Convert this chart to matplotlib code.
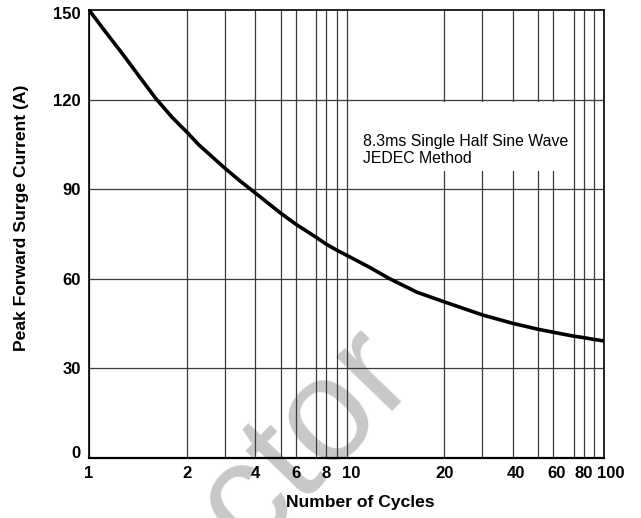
import numpy as np
import matplotlib
matplotlib.use("Agg")
import matplotlib.pyplot as plt
from matplotlib.patches import Rectangle
from matplotlib.transforms import ScaledTranslation

# ---- data ----
cycles = [1, 1.126, 1.267, 1.426, 1.606, 1.807, 2, 2.28, 3, 3.46, 4, 5, 6, 7,
          8, 9, 10, 11.8, 13.6, 16.5, 20, 30, 40, 50, 60, 70, 80, 90, 100]
current = [150, 142.6, 135.4, 127.9, 120.4, 114.0, 109.2, 104.8, 97.0, 92.8,
           88.8, 82.0, 78.3, 73.9, 71.6, 69.6, 67.9, 63.8, 60.0, 55.5, 52.3,
           47.9, 45.1, 43.1, 42.1, 40.8, 40.3, 39.7, 39.2]
y_ticks = [0, 30, 60, 90, 120, 150]
x_grid = [1, 2, 3, 4, 5, 6, 7, 8, 9, 10, 20, 30, 40, 50, 60, 70, 80, 90, 100]
x_labeled = [1, 2, 4, 6, 8, 10, 20, 40, 60, 80, 100]
note_lines = ["8.3ms Single Half Sine Wave", "JEDEC Method"]
xlabel = "Number of Cycles"
ylabel = "Peak Forward Surge Current (A)"

# ---- the datasheet's hand-drawn log grid (decade fractions as drawn) ----
decade_pattern = [0, 0.379, 0.528, 0.645, 0.744, 0.803, 0.882, 0.921, 0.962, 1.0]
tab_x = [0.01] + x_grid + [10000]
tab_pos = [-2] + decade_pattern + [1 + p for p in decade_pattern[1:]] + [4]
tab_lx = np.log10(tab_x)
tab_pos = np.array(tab_pos, dtype=float)


def fwd(x):
    x = np.clip(np.asarray(x, dtype=float), 1e-12, None)
    return np.interp(np.log10(x), tab_lx, tab_pos)


def inv(v):
    return 10 ** np.interp(np.asarray(v, dtype=float), tab_pos, tab_lx)


plt.rcParams['font.family'] = ['Liberation Sans', 'DejaVu Sans']

fig = plt.figure(figsize=(6.41, 5.18), dpi=100)
fig.patch.set_facecolor('white')
ax = fig.add_axes([89 / 641, 60 / 518, 515 / 641, 448 / 518])
ax.set_facecolor('none')

ax.set_xscale('function', functions=(fwd, inv))
ax.set_xlim(1, 100)
ax.set_ylim(0, 150)

# grid
for gx in x_grid:
    ax.axvline(gx, color='#3a3a3a', lw=0.9, zorder=1)
for gy in y_ticks[1:-1]:
    ax.axhline(gy, color='#3a3a3a', lw=0.9, zorder=1)

# note box (white background hiding grid)
ax.add_patch(Rectangle((0.507, 0.641), 0.427, 0.153, transform=ax.transAxes,
                       facecolor='white', edgecolor='none', zorder=2))
ax.text(0.532, 0.6875, "\n".join(note_lines), transform=ax.transAxes,
        fontsize=11.4, ha='left', va='center', linespacing=1.1, zorder=3)

ax.plot(cycles, current, color='black', lw=2.6, zorder=4,
        solid_capstyle='round', solid_joinstyle='round')

ax.set_xticks(x_grid)
ax.set_xticklabels([str(v) if v in x_labeled else "" for v in x_grid])
ax.xaxis.set_minor_locator(matplotlib.ticker.NullLocator())
ax.set_yticks(y_ticks)
ax.tick_params(length=0, labelsize=12)
ax.tick_params(axis='x', pad=6)
ax.tick_params(axis='y', pad=6)
for lab in ax.get_xticklabels() + ax.get_yticklabels():
    lab.set_fontweight('bold')

# small label offsets as drawn on the sheet (pixels)
x_shift = {10: 5, 40: 3, 60: 3, 100: 7}
for v, lab in zip(x_grid, ax.get_xticklabels()):
    if v in x_shift:
        lab.set_transform(lab.get_transform() +
                          ScaledTranslation(x_shift[v] / 100, 0, fig.dpi_scale_trans))
y_shift = {0: 6, 150: -3}
for v, lab in zip(y_ticks, ax.get_yticklabels()):
    if v in y_shift:
        lab.set_transform(lab.get_transform() +
                          ScaledTranslation(0, y_shift[v] / 100, fig.dpi_scale_trans))

for s in ax.spines.values():
    s.set_color('black')
    s.set_linewidth(1.2)
    s.set_zorder(5)
ax.spines['bottom'].set_linewidth(1.6)

ax.set_xlabel(xlabel, fontsize=12.6, fontweight='bold')
ax.set_ylabel(ylabel, fontsize=12.6, fontweight='bold')
ax.xaxis.label.set_va('center')
ax.yaxis.label.set_va('center')
ax.xaxis.set_label_coords(0.526, -0.100)
ax.yaxis.set_label_coords(-0.131, 0.537)

# watermark (partly outside the page, as in the reference)
fig.text(306 / 641, 1 - 440 / 518, "ctor", fontsize=106, color='#c8c8c8',
         rotation=46, ha='center', va='center', zorder=-1)

fig.savefig("out.png", dpi=100)
